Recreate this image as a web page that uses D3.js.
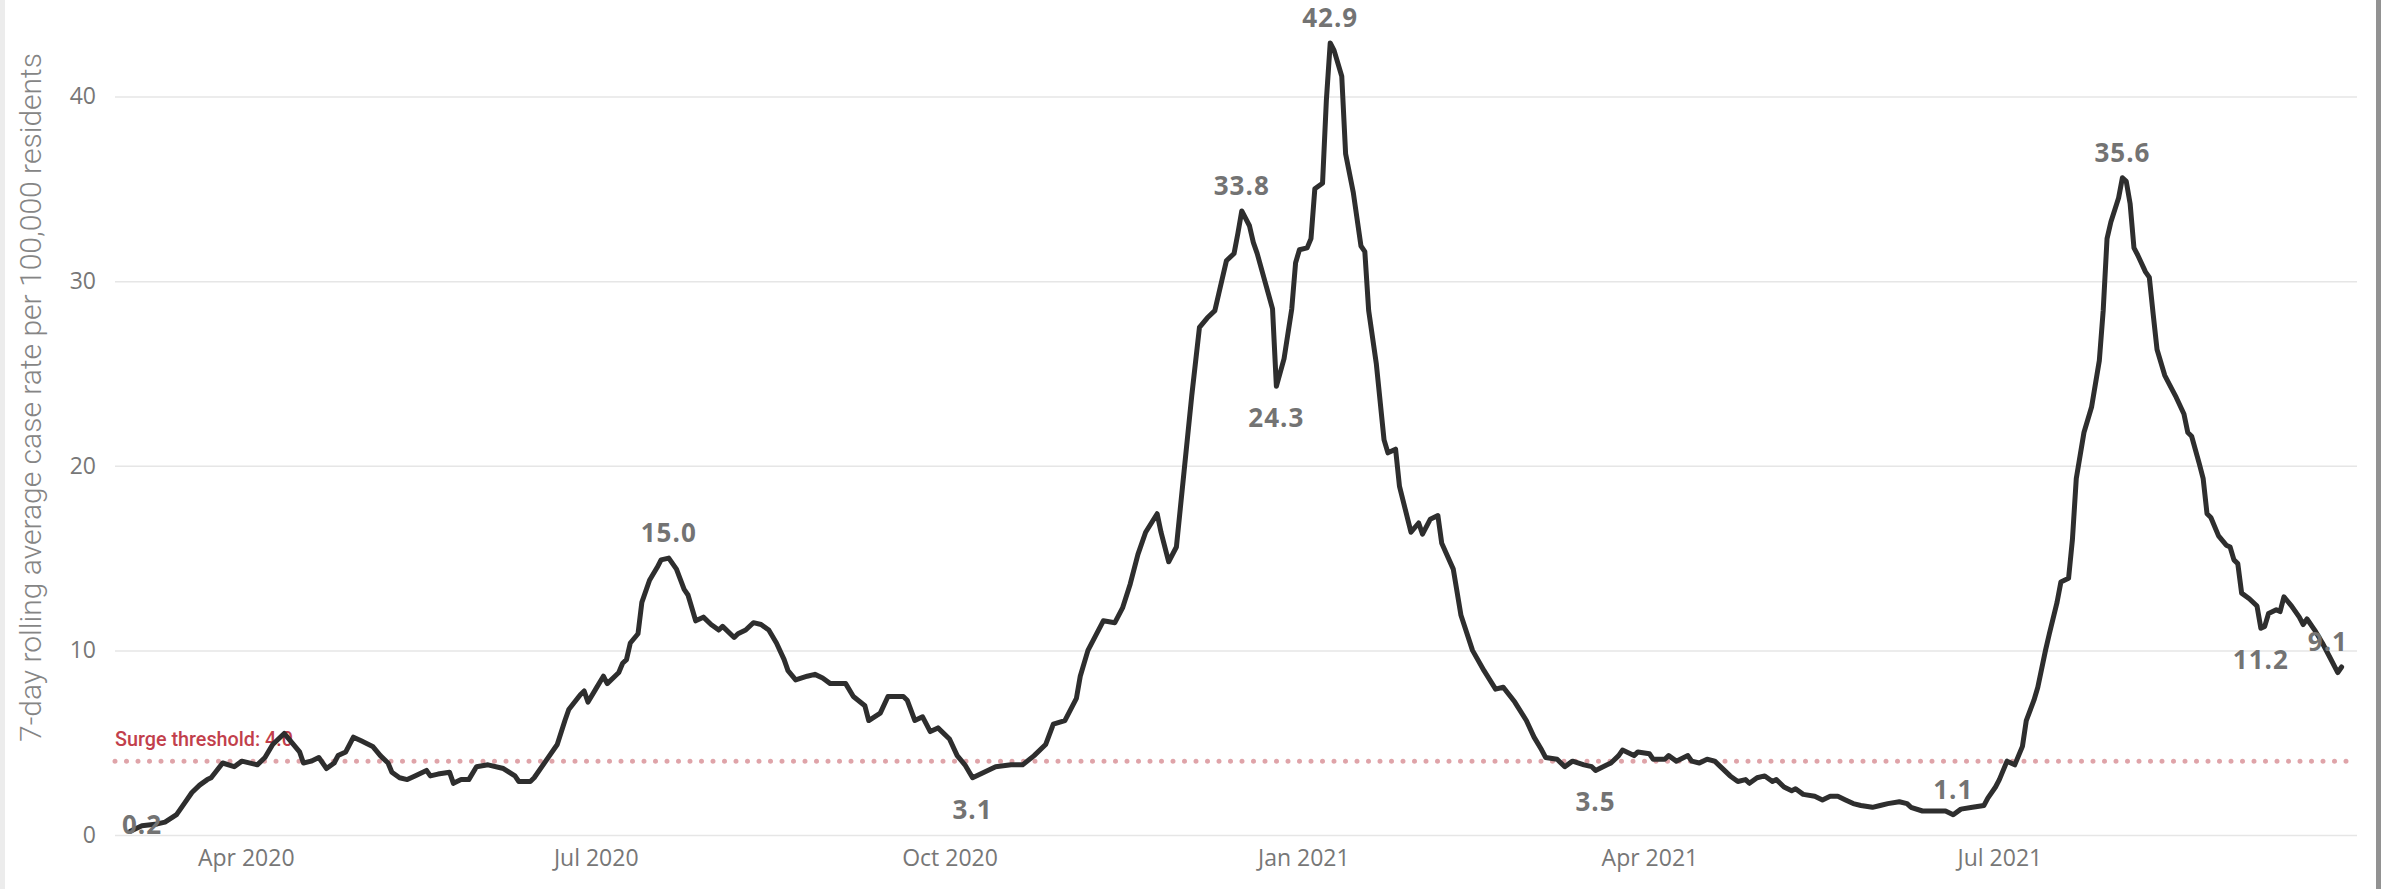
<!DOCTYPE html>
<head>
<meta charset="utf-8">
<title>7-day rolling average case rate</title>
<script src="https://d3js.org/d3.v7.min.js"></script>
<style>
body { margin: 0; background: #fff; }
svg { display: block; }
.grid line { stroke: #e6e6e6; stroke-width: 1.5; }
.grid text { fill: #777; font: 23px "Open Sans", "Noto Sans", sans-serif; }
.xaxis text { fill: #777; font: 23px "Open Sans", "Noto Sans", sans-serif; }
.ytitle { fill: #858585; font: 300 30px Roboto, sans-serif; }
.surge-label { fill: #c23f4c; font: 500 20px Roboto, sans-serif; }
.dlabel { fill: #737373; font: bold 26px "Open Sans", sans-serif; letter-spacing: 1px; }
</style>
</head>
<body>
<div id="chart"></div>
<script>

//-----------------------------DATA-----------------------------//
const dates = [
  "2020-03-02","2020-03-05","2020-03-09","2020-03-11","2020-03-14","2020-03-16","2020-03-18","2020-03-20","2020-03-22","2020-03-23","2020-03-26","2020-03-29","2020-03-31",
  "2020-04-04","2020-04-06","2020-04-08","2020-04-11","2020-04-13","2020-04-15","2020-04-16","2020-04-18","2020-04-20","2020-04-22","2020-04-24","2020-04-25","2020-04-27","2020-04-29",
  "2020-05-01","2020-05-04","2020-05-06","2020-05-08","2020-05-09","2020-05-11","2020-05-13","2020-05-15","2020-05-18","2020-05-19","2020-05-21","2020-05-24","2020-05-25","2020-05-27","2020-05-29","2020-05-31",
  "2020-06-03","2020-06-07","2020-06-10","2020-06-11","2020-06-14","2020-06-15","2020-06-18","2020-06-21","2020-06-23","2020-06-24","2020-06-27","2020-06-28","2020-06-29",
  "2020-07-01","2020-07-03","2020-07-04","2020-07-06","2020-07-07","2020-07-08","2020-07-09","2020-07-10","2020-07-12","2020-07-13","2020-07-15","2020-07-17","2020-07-18","2020-07-20","2020-07-22","2020-07-24","2020-07-25","2020-07-27","2020-07-29","2020-07-31",
  "2020-08-02","2020-08-03","2020-08-06","2020-08-07","2020-08-09","2020-08-11","2020-08-13","2020-08-15","2020-08-17","2020-08-19","2020-08-20","2020-08-22","2020-08-25","2020-08-27","2020-08-29","2020-08-31",
  "2020-09-04","2020-09-06","2020-09-09","2020-09-10","2020-09-13","2020-09-15","2020-09-19","2020-09-20","2020-09-22","2020-09-24","2020-09-26","2020-09-28",
  "2020-10-01","2020-10-03","2020-10-05","2020-10-07","2020-10-10","2020-10-13","2020-10-17","2020-10-20","2020-10-23","2020-10-26","2020-10-28","2020-10-31",
  "2020-11-03","2020-11-04","2020-11-06","2020-11-10","2020-11-13","2020-11-15","2020-11-17","2020-11-19","2020-11-21","2020-11-24","2020-11-25","2020-11-27","2020-11-29",
  "2020-12-01","2020-12-03","2020-12-05","2020-12-07","2020-12-09","2020-12-10","2020-12-12","2020-12-14","2020-12-15","2020-12-16","2020-12-18","2020-12-19","2020-12-20","2020-12-22","2020-12-24","2020-12-25","2020-12-27","2020-12-29","2020-12-30","2020-12-31",
  "2021-01-02","2021-01-03","2021-01-04","2021-01-06","2021-01-07","2021-01-08","2021-01-09","2021-01-11","2021-01-12","2021-01-14","2021-01-16","2021-01-17","2021-01-18","2021-01-20","2021-01-22","2021-01-23","2021-01-25","2021-01-26","2021-01-29","2021-01-31",
  "2021-02-01","2021-02-03","2021-02-05","2021-02-06","2021-02-09","2021-02-11","2021-02-14","2021-02-17","2021-02-20","2021-02-22","2021-02-25","2021-02-28",
  "2021-03-02","2021-03-04","2021-03-05","2021-03-08","2021-03-10","2021-03-12","2021-03-15","2021-03-17","2021-03-18","2021-03-21","2021-03-22","2021-03-24","2021-03-25","2021-03-28","2021-03-29",
  "2021-04-01","2021-04-02","2021-04-05","2021-04-06","2021-04-08","2021-04-11","2021-04-12","2021-04-14","2021-04-16","2021-04-18","2021-04-19","2021-04-22","2021-04-24","2021-04-26","2021-04-27","2021-04-29",
  "2021-05-01","2021-05-03","2021-05-04","2021-05-06","2021-05-08","2021-05-09","2021-05-11","2021-05-14","2021-05-16","2021-05-18","2021-05-20","2021-05-22","2021-05-24","2021-05-26","2021-05-29","2021-05-31",
  "2021-06-02","2021-06-05","2021-06-07","2021-06-08","2021-06-11","2021-06-14","2021-06-17","2021-06-19","2021-06-21","2021-06-24","2021-06-27","2021-06-28","2021-06-30",
  "2021-07-01","2021-07-03","2021-07-05","2021-07-07","2021-07-08","2021-07-10","2021-07-11","2021-07-13","2021-07-14","2021-07-16","2021-07-17","2021-07-19","2021-07-20","2021-07-21","2021-07-23","2021-07-25","2021-07-27","2021-07-28","2021-07-29","2021-07-30",
  "2021-08-01","2021-08-02","2021-08-03","2021-08-04","2021-08-05","2021-08-06","2021-08-08","2021-08-09","2021-08-10","2021-08-11","2021-08-13","2021-08-15","2021-08-16","2021-08-18","2021-08-19","2021-08-20","2021-08-22","2021-08-23","2021-08-24","2021-08-25","2021-08-27","2021-08-29","2021-08-30","2021-08-31",
  "2021-09-01","2021-09-02","2021-09-04","2021-09-06","2021-09-07","2021-09-08","2021-09-09","2021-09-11","2021-09-12","2021-09-13","2021-09-15","2021-09-17","2021-09-18","2021-09-19","2021-09-21","2021-09-23","2021-09-25","2021-09-27","2021-09-28"
];
const values = [
  0.2,0.5,0.6,0.7,1.1,1.7,2.3,2.7,3.0,3.1,3.9,3.7,4.0,
  3.8,4.2,4.9,5.5,5.0,4.5,3.9,4.0,4.2,3.6,3.9,4.3,4.5,5.3,
  5.1,4.8,4.3,3.9,3.4,3.1,3.0,3.2,3.5,3.2,3.3,3.4,2.8,3.0,3.0,3.7,
  3.8,3.6,3.2,2.9,2.9,3.1,4.0,4.9,6.2,6.8,7.6,7.8,7.2,
  7.9,8.6,8.2,8.6,8.8,9.3,9.5,10.4,10.9,12.6,13.8,14.5,14.9,15.0,14.4,13.3,13.0,11.6,11.8,11.4,
  11.1,11.3,10.7,10.9,11.1,11.5,11.4,11.1,10.4,9.5,8.9,8.4,8.6,8.7,8.5,8.2,
  8.2,7.5,7.0,6.2,6.6,7.5,7.5,7.3,6.2,6.4,5.6,5.8,
  5.2,4.3,3.8,3.1,3.4,3.7,3.8,3.8,4.3,4.9,6.0,6.2,
  7.4,8.6,10.0,11.6,11.5,12.3,13.6,15.2,16.4,17.4,16.4,14.8,15.6,
  19.7,23.8,27.5,28.0,28.4,29.3,31.1,31.5,32.6,33.8,33.0,32.1,31.5,30.0,28.5,24.3,25.8,28.5,31.0,31.7,
  31.8,32.3,35.0,35.3,39.8,42.9,42.5,41.1,36.9,34.8,31.9,31.6,28.4,25.5,21.4,20.7,20.9,18.9,16.4,16.9,
  16.3,17.1,17.3,15.8,14.4,11.9,10.0,8.9,7.9,8.0,7.2,6.2,
  5.3,4.6,4.2,4.1,3.7,4.0,3.8,3.7,3.5,3.8,3.9,4.3,4.6,4.3,4.5,
  4.4,4.1,4.1,4.3,4.0,4.3,4.0,3.9,4.1,4.0,3.8,3.2,2.9,3.0,2.8,3.1,
  3.2,2.9,3.0,2.6,2.4,2.5,2.2,2.1,1.9,2.1,2.1,1.9,1.7,1.6,1.5,1.6,
  1.7,1.8,1.7,1.5,1.3,1.3,1.3,1.1,1.4,1.5,1.6,2.0,2.6,
  3.0,4.0,3.8,4.8,6.2,7.3,8.0,10.0,10.9,12.6,13.7,13.9,16.0,19.3,21.8,23.2,25.7,28.4,32.3,33.2,
  34.5,35.6,35.4,34.2,31.8,31.4,30.5,30.2,28.2,26.3,24.9,24.1,23.7,22.8,21.8,21.6,20.1,19.3,17.4,17.2,16.2,15.7,15.6,14.9,
  14.7,13.1,12.8,12.4,11.2,11.3,12.0,12.2,12.1,12.9,12.4,11.8,11.4,11.7,11.1,10.4,9.6,8.8,9.1
];

const yTicks = [0, 10, 20, 30, 40];
const xTickDates = ["2020-04-01","2020-07-01","2020-10-01","2021-01-01","2021-04-01","2021-07-01"];
const xDomain = ["2020-02-27","2021-10-02"];

// labelled points and where the label sits
const labelDates = ["2020-03-02","2020-07-20","2020-10-07","2020-12-16","2020-12-25","2021-01-08","2021-03-18","2021-06-19","2021-08-02","2021-09-07","2021-09-28"];
const labelPlaces = ["on","above","below","above","below","above","below","above","above","below","above"];

const surgeValue = 4.0;
const yTitle = "7-day rolling average case rate per 100,000 residents";

//------------------------------SVG-----------------------------//
const width = 2381, height = 889;
const plotLeft = 115, plotRight = 2357, plotTop = 96.5, plotBottom = 835;

const svg = d3.select("#chart").append("svg")
    .attr("width", width)
    .attr("height", height);

svg.append("rect").attr("width", width).attr("height", height).attr("fill", "#fff");
svg.append("rect").attr("x", 0).attr("y", 0).attr("width", 5).attr("height", height).attr("fill", "#ececec");
svg.append("rect").attr("x", width - 5).attr("y", 0).attr("width", 5).attr("height", height).attr("fill", "#929292");

const parse = d3.utcParse("%Y-%m-%d");
const series = dates.map((d, i) => ({ date: parse(d), value: values[i] }));

//----------------------------SCALES----------------------------//
const x = d3.scaleUtc().domain(xDomain.map(parse)).range([plotLeft, plotRight]);
const y = d3.scaleLinear().domain([0, 40]).range([plotBottom, plotTop]);

//-----------------------------AXES-----------------------------//
const grid = svg.append("g")
    .attr("class", "grid")
    .attr("transform", "translate(" + plotLeft + ",0)")
    .call(d3.axisLeft(y).tickValues(yTicks).tickSize(-(plotRight - plotLeft)).tickPadding(19));
grid.select(".domain").remove();

const xaxis = svg.append("g")
    .attr("class", "xaxis")
    .attr("transform", "translate(0," + plotBottom + ")")
    .call(d3.axisBottom(x).tickValues(xTickDates.map(parse))
        .tickFormat(d3.utcFormat("%b %Y")).tickSize(0).tickPadding(15));
xaxis.select(".domain").remove();

svg.append("text")
    .attr("class", "ytitle")
    .attr("transform", "translate(41," + 397.5 + ") rotate(-90)")
    .attr("text-anchor", "middle")
    .attr("textLength", 689)
    .attr("lengthAdjust", "spacingAndGlyphs")
    .text(yTitle);

//----------------------------SURGE-----------------------------//
svg.append("line")
    .attr("x1", plotLeft).attr("x2", plotRight)
    .attr("y1", y(surgeValue)).attr("y2", y(surgeValue))
    .attr("stroke", "#dfa4a9")
    .attr("stroke-width", 5)
    .attr("stroke-linecap", "round")
    .attr("stroke-dasharray", "0 11.5");

svg.append("text")
    .attr("class", "surge-label")
    .attr("x", plotLeft)
    .attr("y", y(surgeValue) - 15)
    .attr("textLength", 178)
    .attr("lengthAdjust", "spacingAndGlyphs")
    .text("Surge threshold: " + d3.format(".1f")(surgeValue));

//----------------------------LINE------------------------------//
const line = d3.line()
    .x(d => x(d.date))
    .y(d => y(d.value));

svg.append("path")
    .datum(series)
    .attr("fill", "none")
    .attr("stroke", "#2e2e2e")
    .attr("stroke-width", 5)
    .attr("stroke-linejoin", "round")
    .attr("stroke-linecap", "round")
    .attr("d", line);

//---------------------------LABELS-----------------------------//
const offsets = { above: -16, below: 41, on: 3 };
const labels = labelDates.map((d, i) => {
    const p = series[dates.indexOf(d)];
    return { date: p.date, value: p.value, place: labelPlaces[i] };
});

svg.selectAll(".dlabel")
    .data(labels)
    .enter().append("text")
    .attr("class", "dlabel")
    .attr("text-anchor", "middle")
    .attr("y", d => y(d.value) + offsets[d.place])
    .text(d => d3.format(".1f")(d.value))
    .attr("x", function(d) {
        const w = this.getComputedTextLength();
        let cx = x(d.date);
        cx = Math.max(cx, 122 + w / 2);
        cx = Math.min(cx, 2348 - w / 2);
        return cx;
    });

</script>
</body>
